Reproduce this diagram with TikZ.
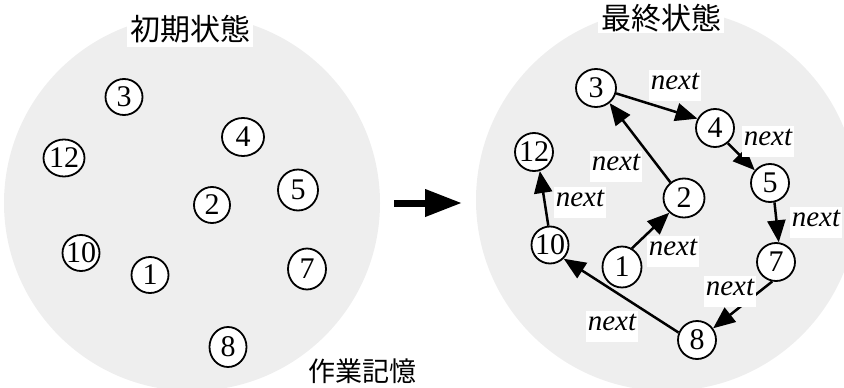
\documentclass[tikz,border=0pt]{standalone}
\usepackage{fontspec}
\setmainfont{Liberation Serif}
\newfontfamily\cjk{Noto Sans CJK JP}
\usetikzlibrary{shapes.geometric,arrows.meta}
\definecolor{bggray}{RGB}{238,238,238}
\newcommand\zbox[1]{\makebox[0pt]{#1}}
\tikzset{
  nd/.style={ellipse, draw, line width=1.8pt, fill=white, inner sep=0pt,
    minimum width=38pt, minimum height=38pt, font=\fontsize{30}{30}\selectfont},
  lbl/.style={fill=white, inner xsep=1.5pt, inner ysep=1.5pt, text height=18pt,
    text depth=10pt, font=\fontsize{29}{29}\selectfont\itshape},
  nextedge/.style={line width=2.5pt, -{Triangle[length=22pt,width=18pt]}},
  ttl/.style={fill=white, inner sep=0pt, inner xsep=3pt, anchor=base,
    font=\fontsize{30}{30}\selectfont\cjk},
}
\begin{document}
\begin{tikzpicture}[x=1pt,y=-1pt]
\useasboundingbox (0,0) rectangle (844,388);
\clip (0,0) rectangle (844,388);
% memory areas
\fill[bggray] (192,203) circle (188pt);
\fill[bggray] (667,200) circle (191pt);
% titles
\node[ttl, text height=40pt, text depth=7pt] (t1) at (190,40) {初期状態};
\node[ttl, text height=30pt, text depth=3pt] (t2) at (661,30) {最終状態};
\node[anchor=base, inner sep=0pt, font=\fontsize{27}{27}\selectfont\cjk] (wm) at (362,381) {作業記憶};
% left nodes
\node[nd, minimum width=37pt, minimum height=36pt] (L3) at (124,97) {\zbox{3}};
\node[nd, minimum width=42pt, minimum height=38pt] (L4) at (243,137) {\zbox{4}};
\node[nd, minimum width=41pt, minimum height=37pt] (L12) at (64,158) {\zbox{12}};
\node[nd, minimum width=36pt, minimum height=36pt] (L2) at (212,205) {\zbox{2}};
\node[nd, minimum width=40pt, minimum height=41pt] (L5) at (298,190) {\zbox{5}};
\node[nd, minimum width=37pt, minimum height=36pt] (L10) at (81,253) {\zbox{10}};
\node[nd, minimum width=37pt, minimum height=36pt] (L1) at (150,275) {\zbox{1}};
\node[nd, minimum width=38pt, minimum height=41pt] (L7) at (307,269) {\zbox{7}};
\node[nd, minimum width=37pt, minimum height=40pt] (L8) at (228,347) {\zbox{8}};
% big arrow
\coordinate (a1) at (394,203);
\coordinate (a2) at (462,203);
\draw[line width=7pt, -{Triangle[length=37pt,width=26pt]}] (a1) -- (a2);
% right nodes
\node[nd, minimum width=40pt, minimum height=38pt] (R3) at (596,88) {\zbox{3}};
\node[nd] (R4) at (715,128) {\zbox{4}};
\node[nd] (R12) at (534,152) {\zbox{12}};
\node[nd, minimum width=41pt, minimum height=39pt] (R2) at (684,198) {\zbox{2}};
\node[nd] (R5) at (770,183) {\zbox{5}};
\node[nd, minimum width=37pt, minimum height=37pt] (R10) at (550,245) {\zbox{10}};
\node[nd, minimum width=39pt, minimum height=41pt] (R1) at (622,267) {\zbox{1}};
\node[nd] (R7) at (776,262) {\zbox{7}};
\node[nd] (R8) at (697,340) {\zbox{8}};
% links
\draw[nextedge] (R3.345) -- (R4.152);
\draw[nextedge] (R4.310) -- (R5.140);
\draw[nextedge] (R5.283) -- (R7.82);
\draw[nextedge] (R7.259) -- (R8.36);
\draw[nextedge] (R8.158) -- (R10.315);
\draw[nextedge] (R10.95) -- (R12.287);
\draw[nextedge] (R1.62) -- (R2.225);
\draw[nextedge] (R2.131) -- (R3.312);
% labels
\node[lbl] (n34) at (675,85) {next};
\node[lbl] (n45) at (768,141) {next};
\node[lbl] (n23) at (616,166) {next};
\node[lbl] (n1012) at (580,202) {next};
\node[lbl] (n57) at (816,222) {next};
\node[lbl] (n12) at (673,251) {next};
\node[lbl] (n78) at (730,291) {next};
\node[lbl] (n810) at (612,326) {next};
\end{tikzpicture}
\end{document}
